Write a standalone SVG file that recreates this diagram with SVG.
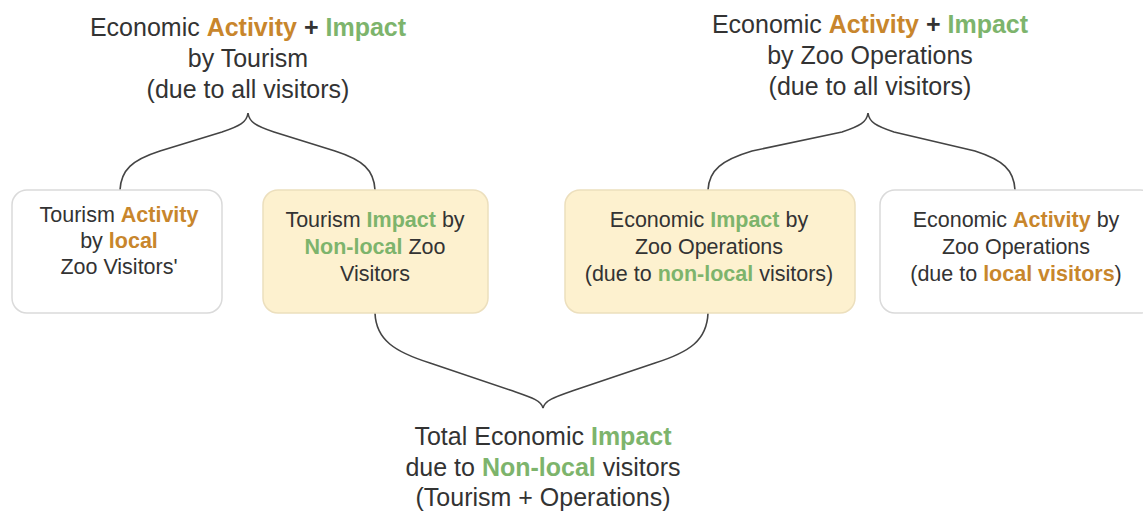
<svg xmlns="http://www.w3.org/2000/svg" width="1143" height="512" viewBox="0 0 1143 512">
<style>
text{font-family:"Liberation Sans",Arial,sans-serif;fill:#333;text-anchor:middle}
.big{font-size:25px}
.sm{font-size:21.5px}
.o{fill:#c8862c;font-weight:bold}
.g{fill:#7db46c;font-weight:bold}
.b{font-weight:bold}
.y{fill:#fdf1cf;stroke:#ecdfbd;stroke-width:1.5}
.w{fill:#fff;stroke:#dadada;stroke-width:1.5}
.br{fill:none;stroke:#444;stroke-width:1.6}
</style>
<rect width="1143" height="512" fill="#fff"/>
<g id="connectors">
<path class="br" d="M120,190 C121,170 132,160 160,151 L222,132 C240,126 247,122 248,113 C249,122 256,126 274,132 L335,151 C363,160 374,170 375,190"/>
<path class="br" d="M708,190 C709,170 722,160 752,151 L842,132 C860,126 867,122 868,113 C869,122 876,126 894,132 L975,151 C1003,160 1014,170 1015,190"/>
<path class="br" d="M375,313 C376,340 395,352 430,363 L510,390 C530,397 541,400 543,408 C545,400 555,397 575,390 L655,363 C690,352 707,340 708,313"/>
</g>
<g id="top-tourism">
<text class="big" x="248" y="36">Economic <tspan class="o">Activity</tspan> <tspan class="b">+</tspan> <tspan class="g">Impact</tspan></text>
<text class="big" x="248" y="67">by Tourism</text>
<text class="big" x="248" y="98">(due to all visitors)</text>
</g>
<g id="top-operations">
<text class="big" x="870" y="33">Economic <tspan class="o">Activity</tspan> <tspan class="b">+</tspan> <tspan class="g">Impact</tspan></text>
<text class="big" x="870" y="64">by Zoo Operations</text>
<text class="big" x="870" y="95">(due to all visitors)</text>
</g>
<g id="box-tourism-local">
<rect class="w" x="12" y="190" width="210" height="123" rx="15"/>
<text class="sm" x="119" y="222">Tourism <tspan class="o">Activity</tspan></text>
<text class="sm" x="119" y="248">by <tspan class="o">local</tspan></text>
<text class="sm" x="119" y="274">Zoo Visitors'</text>
</g>
<g id="box-tourism-nonlocal">
<rect class="y" x="263" y="190" width="225" height="123" rx="15"/>
<text class="sm" x="375" y="227">Tourism <tspan class="g">Impact</tspan> by</text>
<text class="sm" x="375" y="254"><tspan class="g">Non-local</tspan> Zoo</text>
<text class="sm" x="375" y="281">Visitors</text>
</g>
<g id="box-ops-nonlocal">
<rect class="y" x="565" y="190" width="290" height="123" rx="15"/>
<text class="sm" x="709" y="227">Economic <tspan class="g">Impact</tspan> by</text>
<text class="sm" x="709" y="254">Zoo Operations</text>
<text class="sm" x="709" y="281">(due to <tspan class="g">non-local</tspan> visitors)</text>
</g>
<g id="box-ops-local">
<rect class="w" x="880" y="190" width="275" height="123" rx="15"/>
<text class="sm" x="1016" y="227">Economic <tspan class="o">Activity</tspan> by</text>
<text class="sm" x="1016" y="254">Zoo Operations</text>
<text class="sm" x="1016" y="281">(due to <tspan class="o">local visitors</tspan>)</text>
</g>
<g id="bottom-total">
<text class="big" x="543" y="445">Total Economic <tspan class="g">Impact</tspan></text>
<text class="big" x="543" y="476">due to <tspan class="g">Non-local</tspan> visitors</text>
<text class="big" x="543" y="506">(Tourism + Operations)</text>
</g>
</svg>
